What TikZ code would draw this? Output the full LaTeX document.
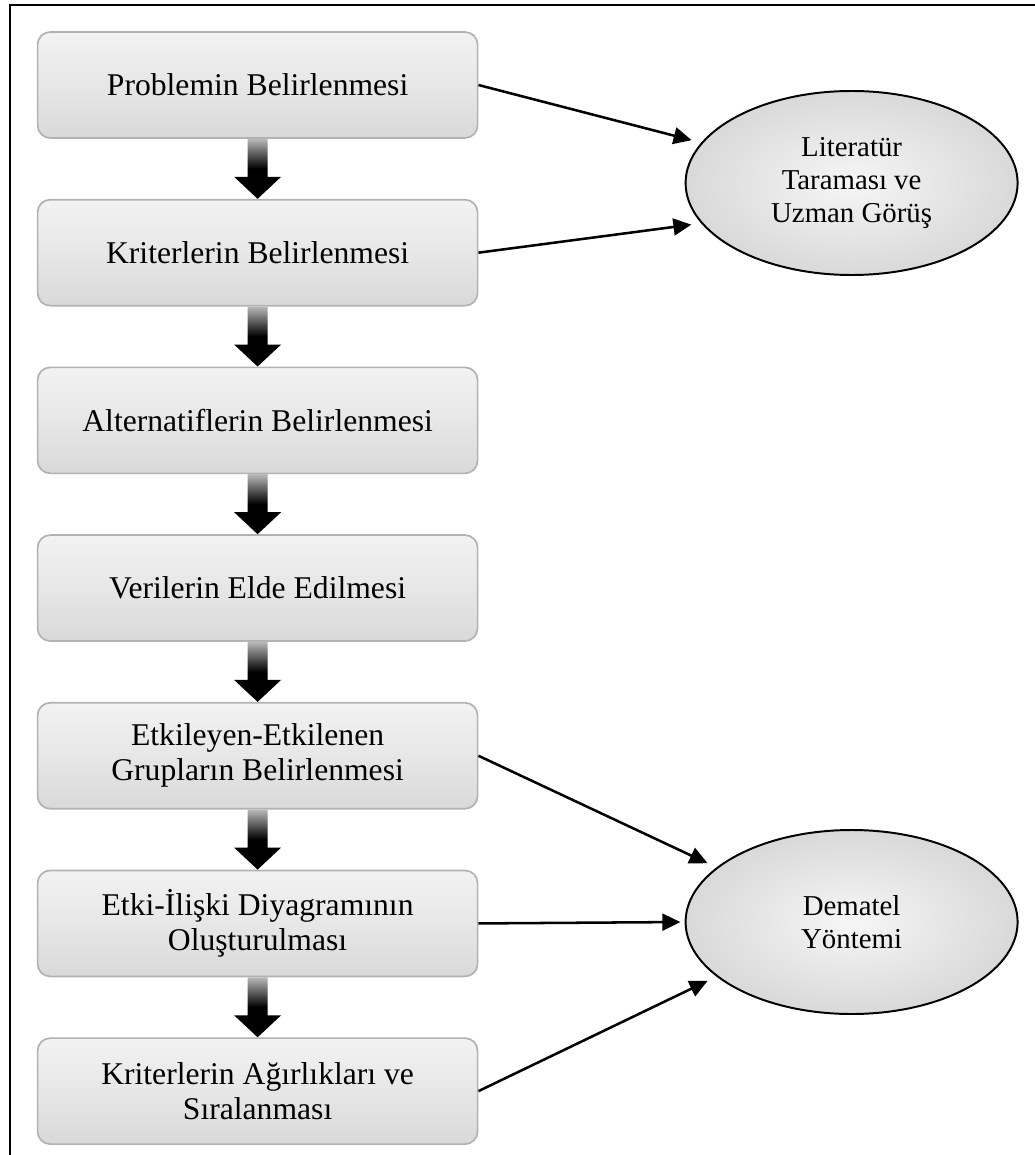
\documentclass[tikz,border=0pt]{standalone}
\usepackage{fontspec}
\setmainfont{Liberation Serif}
\usepackage{tikz}
\usetikzlibrary{positioning}
\usetikzlibrary{arrows.meta}
\usetikzlibrary{shapes.geometric}
\usetikzlibrary{calc}

\begin{document}
\begin{tikzpicture}
        \tikzstyle{asama}=[rectangle, rounded corners=9pt, draw=gray!60, line width=1.2pt,
            top color=gray!10, bottom color=gray!30, middle color=gray!19,
            minimum width=11cm, minimum height=2.65cm, inner sep=0pt, align=center,
            font=\fontsize{22.5}{25}\selectfont]
        \tikzstyle{kaynak}=[ellipse, draw=black, line width=1.4pt,
            inner color=gray!7, outer color=gray!30,
            minimum width=8.3cm, minimum height=4.6cm, inner sep=0pt, align=center,
            font=\fontsize{20.5}{23.5}\selectfont]
        \tikzstyle{ok}=[line width=1.8pt, -{Triangle[length=0.45cm, width=0.42cm]}]

            \useasboundingbox (0,0) rectangle (25.875,-28.875);
            \draw[line width=1.4pt] (0.25,-28.875) -- (0.25,-0.125) -- (25.875,-0.125);

            \node[asama] (p1) at (6.44,-2.125) {Problemin Belirlenmesi};
            \node[asama, below=1.5cm of p1] (p2) {Kriterlerin Belirlenmesi};
            \node[asama, below=1.5cm of p2] (p3) {Alternatiflerin Belirlenmesi};
            \node[asama, below=1.5cm of p3] (p4) {Verilerin Elde Edilmesi};
            \node[asama, below=1.5cm of p4] (p5) {Etkileyen-Etkilenen\\Grupların Belirlenmesi};
            \node[asama, below=1.5cm of p5] (p6) {Etki-İlişki Diyagramının\\Oluşturulması};
            \node[asama, below=1.5cm of p6] (p7) {Kriterlerin Ağırlıkları ve\\Sıralanması};

            \node[kaynak] (lit) at (21.29,-4.575) {Literatür\\Taraması ve\\Uzman Görüş};
            \node[kaynak] (dem) at (21.29,-23.05) {Dematel\\Yöntemi};

            \foreach \a/\b in {p1/p2,p2/p3,p3/p4,p4/p5,p5/p6,p6/p7}
                \shade[top color=gray!55, bottom color=black, middle color=black]
                ($(\a.south)+(-0.25,0)$) -- ($(\a.south)+(0.25,0)$)
                -- ($(\b.north)+(0.25,0.55)$) -- ($(\b.north)+(0.5875,0.55)$)
                -- (\b.north) -- ($(\b.north)+(-0.5875,0.55)$)
                -- ($(\b.north)+(-0.25,0.55)$) -- cycle;

            \draw[ok, shorten >=7pt] (p1.east) -- (lit.165);
            \draw[ok, shorten >=7pt] (p2.east) -- (lit.195);
            \draw[ok, shorten >=7pt] (p5.east) -- (dem.158);
            \draw[ok, shorten >=3pt] (p6.east) -- (dem.west);
            \draw[ok, shorten >=7pt] (p7.east) -- (dem.202);
        \end{tikzpicture}
\end{document}
